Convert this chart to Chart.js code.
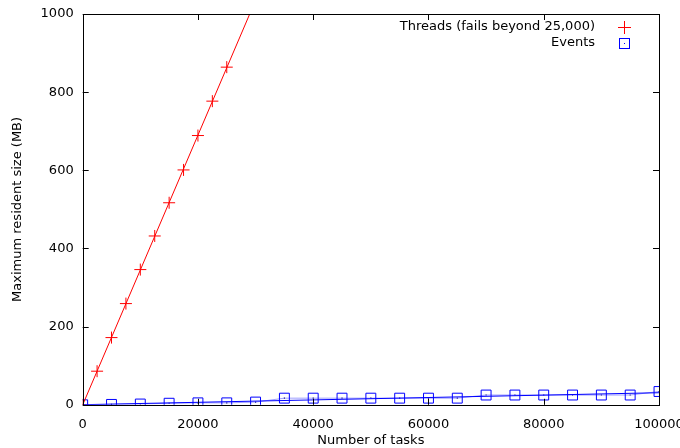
<!DOCTYPE html>
<html>
<head>
<meta charset="utf-8">
<script src="https://cdn.jsdelivr.net/npm/chart.js@4/dist/chart.umd.min.js"></script>
<style>
  html, body { margin: 0; padding: 0; background: #fff; }
  #wrap { width: 680px; height: 448px; }
</style>
</head>
<body>
<div id="wrap"><canvas id="c" width="680" height="448"></canvas></div>
<script>
// ---- data ----
const threadTasks = [0, 2500, 5000, 7500, 10000, 12500, 15000, 17500, 20000, 22500, 25000];
const threadMem   = [0, 86, 172, 259, 346, 432, 517, 601, 689, 777, 864];
const eventTasks  = [0, 5000, 10000, 15000, 20000, 25000, 30000, 35000, 40000, 45000, 50000,
                     55000, 60000, 65000, 70000, 75000, 80000, 85000, 90000, 95000, 100000];
const eventMem    = [0, 1, 2, 4, 5, 5, 7, 17, 17, 17, 17, 17, 17, 17, 25, 25, 25, 25, 25, 25, 34];
const seriesNames = ['Threads (fails beyond 25,000)', 'Events'];
const xTickValues = [0, 20000, 40000, 60000, 80000, 100000];
const yTickValues = [0, 200, 400, 600, 800, 1000];
const xTitle = 'Number of tasks';
const yTitle = 'Maximum resident size (MB)';

function pts(xs, ys) { return xs.map((x, i) => ({ x: x, y: ys[i] })); }
function fit(xs, ys) {
  const n = xs.length;
  const mx = xs.reduce((a, b) => a + b, 0) / n;
  const my = ys.reduce((a, b) => a + b, 0) / n;
  let sxy = 0, sxx = 0;
  for (let i = 0; i < n; i++) { sxy += (xs[i] - mx) * (ys[i] - my); sxx += (xs[i] - mx) * (xs[i] - mx); }
  const b = sxy / sxx, a = my - b * mx;
  return x => a + b * x;
}
const fThreads = fit(threadTasks, threadMem);
const fEvents = fit(eventTasks, eventMem);
const xMin = xTickValues[0], xMax = xTickValues[xTickValues.length - 1];
const fitThreads = [{ x: xMin, y: fThreads(xMin) }, { x: xMax, y: fThreads(xMax) }];
const fitEvents = [{ x: xMin, y: fEvents(xMin) }, { x: xMax, y: fEvents(xMax) }];

const RED = '#ff0000', BLUE = '#0000ff';
const FONT = { family: 'DejaVu Sans', size: 13 };

const framePlugin = {
  id: 'frame',
  afterDatasetsDraw(chart) {
    const { ctx, chartArea: { left, right, top, bottom }, scales: { x, y } } = chart;
    ctx.save();
    ctx.strokeStyle = '#000';
    ctx.lineWidth = 1;
    const T = 6;
    ctx.beginPath();
    x.ticks.forEach(t => {
      const px = Math.round(x.getPixelForValue(t.value)) + 0.5;
      ctx.moveTo(px, bottom); ctx.lineTo(px, bottom - T);
      ctx.moveTo(px, top); ctx.lineTo(px, top + T);
    });
    y.ticks.forEach(t => {
      const py = Math.round(y.getPixelForValue(t.value)) + 0.5;
      ctx.moveTo(left, py); ctx.lineTo(left + T, py);
      ctx.moveTo(right, py); ctx.lineTo(right - T, py);
    });
    ctx.stroke();
    ctx.strokeRect(Math.round(left) + 0.5, Math.round(top) + 0.5, Math.round(right - left), Math.round(bottom - top));
    // legend
    ctx.font = '13px "DejaVu Sans"';
    ctx.fillStyle = '#000';
    ctx.textAlign = 'right';
    ctx.textBaseline = 'middle';
    const tx = right - 64, mx = Math.round(right - 35);
    const rows = [Math.round(top + 13), Math.round(top + 29)];
    ctx.fillText(seriesNames[0], tx, rows[0]);
    ctx.fillText(seriesNames[1], tx, rows[1]);
    ctx.strokeStyle = RED;
    ctx.beginPath(); ctx.moveTo(mx - 6, rows[0] + 0.5); ctx.lineTo(mx + 7, rows[0] + 0.5);
    ctx.moveTo(mx + 0.5, rows[0] - 6); ctx.lineTo(mx + 0.5, rows[0] + 7); ctx.stroke();
    ctx.strokeStyle = BLUE;
    ctx.strokeRect(mx - 4.5, rows[1] - 4.5, 10, 10);
    ctx.fillStyle = BLUE;
    ctx.fillRect(mx, rows[1], 1, 1);
    ctx.restore();
  }
};

new Chart(document.getElementById('c'), {
  type: 'scatter',
  data: {
    datasets: [
      { label: 'threads fit', data: fitThreads, showLine: true, borderColor: RED, borderWidth: 1, pointRadius: 0 },
      { label: 'events fit', data: fitEvents, showLine: true, borderColor: BLUE, borderWidth: 1, pointRadius: 0 },
      { label: seriesNames[1], data: pts(eventTasks, eventMem), showLine: true, borderColor: 'rgba(80,80,255,0.55)', borderWidth: 1,
        pointStyle: 'rect', pointRadius: 7, pointBorderColor: BLUE, pointBackgroundColor: 'rgba(0,0,0,0)', pointBorderWidth: 1 },
      { label: 'dots', data: pts(eventTasks, eventMem), showLine: false, pointStyle: 'rect', pointRadius: 0.8, pointBorderWidth: 0,
        pointBackgroundColor: '#000060' },
      { label: seriesNames[0], data: pts(threadTasks, threadMem), showLine: false, borderColor: RED,
        pointStyle: 'cross', pointRadius: 6, pointBorderColor: RED, pointBorderWidth: 1 }
    ]
  },
  options: {
    responsive: false,
    animation: false,
    devicePixelRatio: 1,
    layout: { padding: { top: 14, right: 21, bottom: 0, left: 10 } },
    plugins: { legend: { display: false }, tooltip: { enabled: false } },
    scales: {
      x: {
        type: 'linear', min: xMin, max: xMax,
        afterBuildTicks: s => { s.ticks = xTickValues.map(v => ({ value: v })); },
        afterFit: s => { s.paddingRight = 0; },
        grid: { display: false, drawTicks: false },
        border: { display: false },
        ticks: { color: '#000', font: FONT, padding: 12, maxRotation: 0, callback: v => String(v) },
        title: { display: true, text: xTitle, color: '#000', font: FONT, padding: { top: -12, bottom: 0 } }
      },
      y: {
        type: 'linear', min: yTickValues[0], max: yTickValues[yTickValues.length - 1],
        afterBuildTicks: s => { s.ticks = yTickValues.map(v => ({ value: v })); },
        afterFit: s => { s.paddingTop = 0; s.paddingBottom = 0; },
        grid: { display: false, drawTicks: false },
        border: { display: false },
        ticks: { color: '#000', font: FONT, padding: 9, callback: v => String(v) },
        title: { display: true, text: yTitle, color: '#000', font: FONT, padding: { top: 0, bottom: 6 } }
      }
    }
  },
  plugins: [framePlugin]
});
</script>
</body>
</html>
